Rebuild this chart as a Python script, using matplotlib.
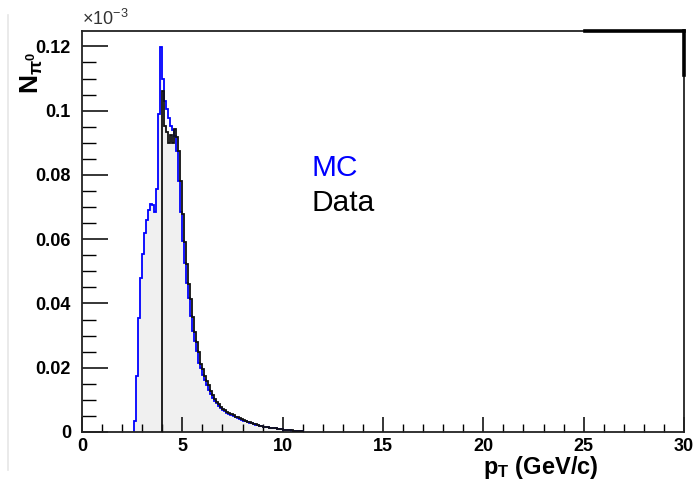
import numpy as np
import matplotlib
matplotlib.use("Agg")
import matplotlib.pyplot as plt
from matplotlib.ticker import MultipleLocator
from matplotlib.lines import Line2D

plt.rcParams["font.family"] = ["Liberation Sans", "DejaVu Sans"]
plt.rcParams["mathtext.fontset"] = "custom"
plt.rcParams["mathtext.rm"] = "Liberation Sans"
plt.rcParams["mathtext.bf"] = "Liberation Sans:bold"
plt.rcParams["mathtext.it"] = "Liberation Sans:italic"

BIN = 0.1

# MC histogram, bins of 0.1 GeV starting at 2.6 (values in units of 1e-3)
mc_start = 2.6
mc_vals = [
    0.0035, 0.0175, 0.0355, 0.048, 0.0554, 0.062, 0.066, 0.069, 0.071, 0.0705,
    0.0685, 0.0755, 0.099, 0.1198, 0.110, 0.103, 0.1005, 0.0977, 0.0953, 0.094,
    0.092, 0.0875, 0.078, 0.0685, 0.0595, 0.0525, 0.0465, 0.0418, 0.0360, 0.0315,
    0.0283, 0.0252, 0.0214, 0.0198, 0.0178, 0.0163, 0.0147, 0.0131, 0.0117, 0.0106,
    0.0096, 0.0089, 0.0081, 0.0074, 0.0069, 0.0064, 0.0060, 0.0056, 0.0053, 0.0049,
    0.0047, 0.0044, 0.0041, 0.0038, 0.0035, 0.0033, 0.0031, 0.0029, 0.0027, 0.0025,
    0.0023, 0.0021, 0.0020, 0.0018, 0.0017, 0.0016, 0.0015, 0.0014, 0.0013, 0.0012,
    0.0011, 0.0010, 0.0009, 0.0008, 0.0007, 0.0006, 0.0005, 0.0005, 0.0004, 0.0004,
    0.0003, 0.0003, 0.0002, 0.0002,
]

# Data histogram, bins of 0.1 GeV starting at 4.0
data_start = 4.0
data_vals = [
    0.106, 0.0953, 0.0933, 0.090, 0.0924, 0.090, 0.0942, 0.0917, 0.0875, 0.078,
    0.068, 0.059, 0.0523, 0.046, 0.0414, 0.0357, 0.031, 0.028, 0.0249, 0.0211,
    0.0195, 0.0175, 0.016, 0.0145, 0.0128, 0.0115, 0.0103, 0.0094, 0.0087, 0.0079,
    0.0072, 0.0068, 0.0063, 0.0058, 0.0055, 0.0052, 0.0048, 0.0046, 0.0043, 0.0040,
    0.0037, 0.0034, 0.0032, 0.0030, 0.0028, 0.0026, 0.0024, 0.0022, 0.0020, 0.0019,
    0.0017, 0.0016, 0.0015, 0.0014, 0.0013, 0.0012, 0.0011, 0.0010, 0.0009, 0.0008,
    0.0007, 0.0006, 0.0006, 0.0005, 0.0005, 0.0004, 0.0004, 0.0003, 0.0003, 0.0002,
]

x_ticks = [0, 5, 10, 15, 20, 25, 30]
y_ticks = [0, 0.02, 0.04, 0.06, 0.08, 0.1, 0.12]
y_tick_labels = ["0", "0.02", "0.04", "0.06", "0.08", "0.1", "0.12"]

mc_vals = np.array(mc_vals)
data_vals = np.array(data_vals)
mc_edges = mc_start + BIN * np.arange(len(mc_vals) + 1)
data_edges = data_start + BIN * np.arange(len(data_vals) + 1)

# grey fill: MC below the data threshold, data above it
mc_centers = mc_start + BIN * (np.arange(len(mc_vals)) + 0.5)
data_on_mc = np.interp(mc_centers, data_edges[:-1] + BIN / 2, data_vals, left=0, right=0)
fill_vals = np.where(mc_centers < data_start, mc_vals, data_on_mc)

fig = plt.figure(figsize=(6.95, 4.83), dpi=100)
ax = fig.add_axes([82 / 695, 1 - 432 / 483, 602 / 695, 401 / 483])

ax.stairs(fill_vals, mc_edges, fill=True, color="#f0f0f0", zorder=1)
ax.stairs(mc_vals, mc_edges, baseline=0, color="#0000ff", lw=1.3, zorder=2)
ax.stairs(data_vals, data_edges, baseline=0, color="#111111", lw=1.3, zorder=3)

ax.set_xlim(0, 30)
ax.set_ylim(0, 0.1248)
ax.set_xticks(x_ticks)
ax.set_xticklabels([str(t) for t in x_ticks])
ax.set_yticks(y_ticks)
ax.set_yticklabels(y_tick_labels)
ax.xaxis.set_minor_locator(MultipleLocator(1))
ax.yaxis.set_minor_locator(MultipleLocator(0.005))

ax.tick_params(axis="both", which="both", direction="in", top=False, right=False)
ax.tick_params(axis="x", which="major", length=11, width=1.1, pad=4)
ax.tick_params(axis="x", which="minor", length=6, width=1.0)
ax.tick_params(axis="y", which="major", length=19, width=1.1, pad=8)
ax.tick_params(axis="y", which="minor", length=10, width=1.0)
for lab in ax.get_xticklabels() + ax.get_yticklabels():
    lab.set_fontsize(13)
    lab.set_fontweight("bold")

for sp in ax.spines.values():
    sp.set_linewidth(1.3)
    sp.set_color("#222222")

# thicker frame pieces at the top right corner
ax.add_line(Line2D([0.835, 1.0], [1.0, 1.0], transform=ax.transAxes,
                   color="black", lw=2.6, clip_on=False, zorder=5))
ax.add_line(Line2D([1.0, 1.0], [1.0, 0.89], transform=ax.transAxes,
                   color="black", lw=2.6, clip_on=False, zorder=5))

ax.text(0.0, 1.005, r"$\times$10$^{-3}$", transform=ax.transAxes,
        fontsize=13, color="#333333", ha="left", va="bottom")

ax.text(11.46, 0.0797, "MC", color="#0000ff", fontsize=21.5)
ax.text(11.46, 0.0688, "Data", color="black", fontsize=21.5)

fig.text(32 / 695, 1 - 52 / 483, r"$\mathbf{N}_{\mathbf{\pi^0}}$", rotation=90,
         fontsize=19, fontweight="bold", ha="center", va="top")
fig.text(483 / 695, 1 - 474 / 483, r"$\mathbf{p_T}$ (GeV/c)", fontsize=17,
         fontweight="bold", ha="left", va="baseline")

# faint screenshot border on the left
fig.add_artist(Line2D([8 / 695, 8 / 695], [1 - 470 / 483, 1 - 15 / 483],
                      color="#e6e6e6", lw=1.2))

fig.savefig("out.png", dpi=100)
